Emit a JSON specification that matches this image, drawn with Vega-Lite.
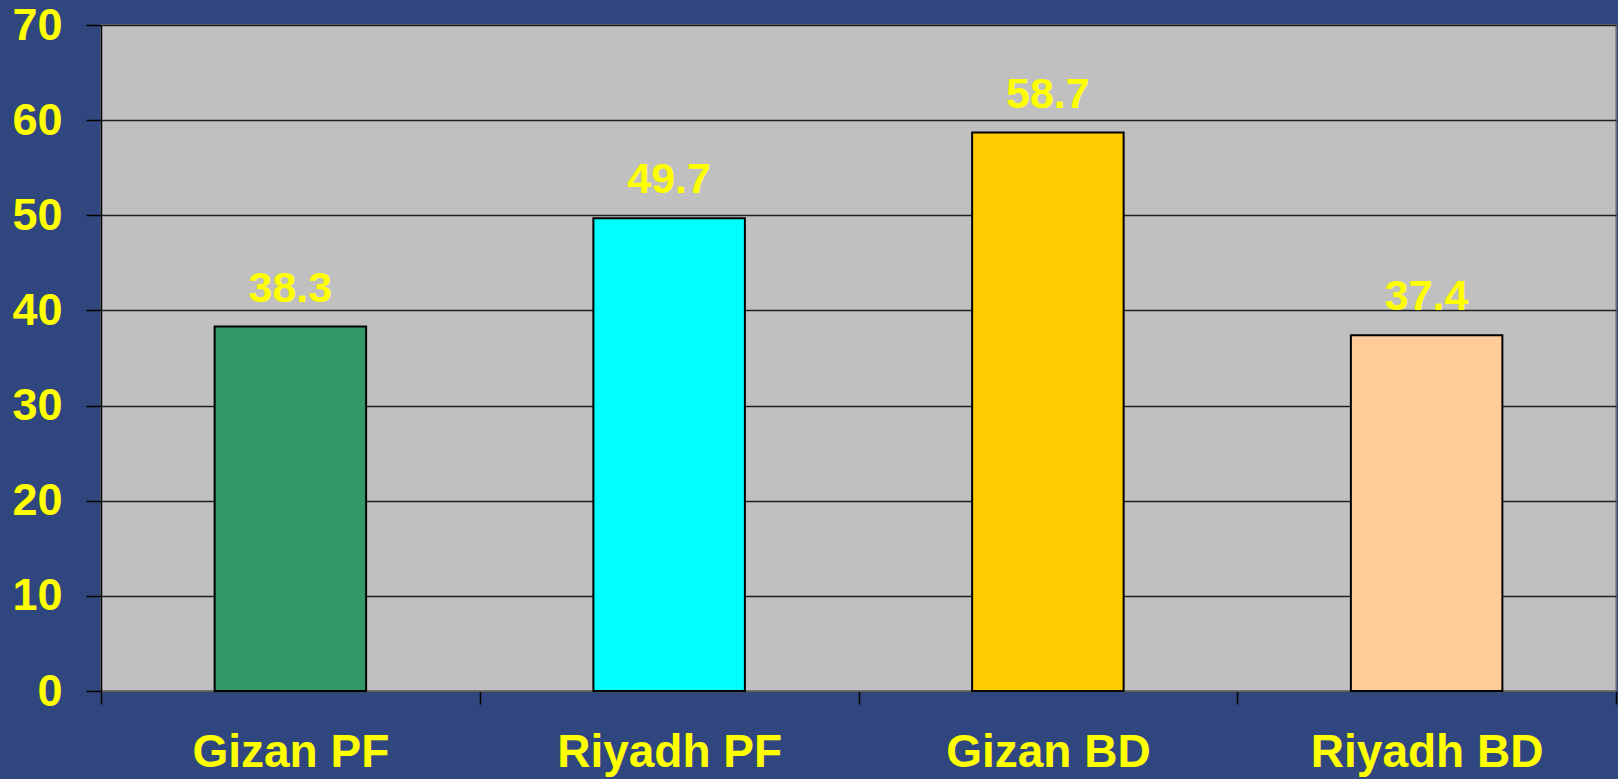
{
  "$schema": "https://vega.github.io/schema/vega-lite/v6.json",
  "autosize": "none",
  "width": 1515,
  "height": 666,
  "padding": {"left": 101, "top": 25, "right": 2, "bottom": 88},
  "background": "#30467f",
  "config": {
    "view": {"fill": "#C0C0C0", "stroke": "#808080", "strokeWidth": 1.5},
    "font": "Liberation Sans"
  },
  "data": {
    "values": [
      {"group": "Gizan PF", "value": 38.3},
      {"group": "Riyadh PF", "value": 49.7},
      {"group": "Gizan BD", "value": 58.7},
      {"group": "Riyadh BD", "value": 37.4}
    ]
  },
  "encoding": {
    "x": {
      "field": "group",
      "type": "nominal",
      "sort": null,
      "scale": {"paddingInner": 0, "paddingOuter": 0},
      "axis": {
        "title": null,
        "labelAngle": 0,
        "labelLimit": 0,
        "labelFont": "Liberation Sans",
        "labelFontWeight": "bold",
        "labelFontSize": 46,
        "labelColor": "#FFFF00",
        "labelPadding": 26,
        "tickBand": "extent",
        "tickSize": 13,
        "tickColor": "#000000",
        "tickWidth": 1.5,
        "domainColor": "#606060",
        "domainWidth": 1.5,
        "grid": false
      }
    },
    "y": {
      "field": "value",
      "type": "quantitative",
      "scale": {"domain": [0, 70], "nice": false},
      "axis": {
        "title": null,
        "values": [0, 10, 20, 30, 40, 50, 60, 70],
        "labelFont": "Liberation Sans",
        "labelFontWeight": "bold",
        "labelFontSize": 45,
        "labelColor": "#FFFF00",
        "labelPadding": 24,
        "tickSize": 15,
        "tickColor": "#000000",
        "tickWidth": 1.5,
        "domainColor": "#000000",
        "domainWidth": 1.5,
        "grid": true,
        "gridColor": "#202020",
        "gridWidth": 1.3,
        "gridOpacity": 1
      }
    }
  },
  "layer": [
    {
      "mark": {"type": "bar", "stroke": "#000000", "strokeWidth": 2, "width": {"band": 0.4}},
      "encoding": {
        "color": {
          "field": "group",
          "type": "nominal",
          "sort": null,
          "scale": {
            "domain": ["Gizan PF", "Riyadh PF", "Gizan BD", "Riyadh BD"],
            "range": ["#339966", "#00FFFF", "#FFCC00", "#FFCC99"]
          },
          "legend": null
        }
      }
    },
    {
      "mark": {
        "type": "text",
        "font": "Liberation Sans",
        "fontWeight": "bold",
        "fontSize": 43,
        "color": "#FFFF00",
        "baseline": "alphabetic",
        "dy": -25
      },
      "encoding": {
        "text": {"field": "value", "type": "quantitative", "format": ".1f"}
      }
    }
  ]
}
